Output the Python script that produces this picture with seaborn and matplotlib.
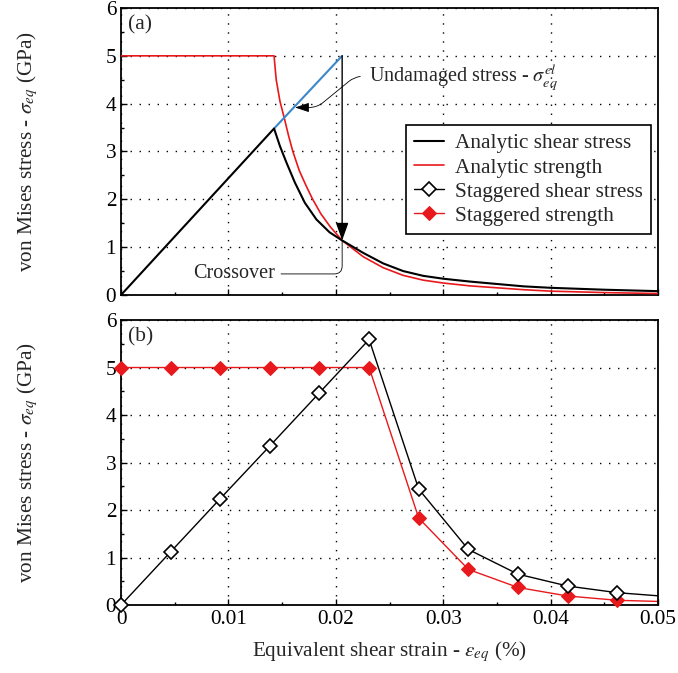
import matplotlib
matplotlib.use("Agg")
import matplotlib.pyplot as plt
import seaborn as sns
from matplotlib.ticker import MultipleLocator, FuncFormatter

# analytic solution
eps_an_shear = [0, 0.01425, 0.0148, 0.01542, 0.01619, 0.01711, 0.01819, 0.01942, 0.02059,
                0.02255, 0.02441, 0.02627, 0.02814, 0.030, 0.0325, 0.035, 0.0375, 0.040, 0.045, 0.050]
sig_an_shear = [0, 3.48, 3.11, 2.76, 2.35, 1.93, 1.58, 1.31, 1.14,
                0.88, 0.66, 0.50, 0.40, 0.34, 0.28, 0.23, 0.18, 0.15, 0.11, 0.08]

eps_an_strength = [0, 0.01425, 0.01445, 0.0148, 0.0152, 0.0156, 0.016, 0.0166, 0.0172, 0.0178,
                   0.0186, 0.0195, 0.02059, 0.02255, 0.02441, 0.02627, 0.02814, 0.030, 0.0325,
                   0.035, 0.0375, 0.040, 0.045, 0.050]
sig_an_strength = [5, 5, 4.5, 4.05, 3.70, 3.33, 3.0, 2.6, 2.3, 2.02,
                   1.7, 1.42, 1.14, 0.80, 0.57, 0.41, 0.31, 0.25, 0.19,
                   0.15, 0.11, 0.08, 0.05, 0.03]

# undamaged (elastic) stress continuation
eps_undamaged = [0.01425, 0.02059]
sig_undamaged = [3.48, 5.0]
eps_cross = 0.02059
sig_cross = 1.14

# staggered solution (panel b)
eps_stag = [0, 0.00462, 0.00924, 0.01386, 0.01848, 0.0231, 0.02772, 0.03234, 0.03696, 0.04158, 0.0462]
sig_stag_shear = [0, 1.12, 2.24, 3.35, 4.47, 5.59, 2.44, 1.17, 0.65, 0.40, 0.26]
sig_stag_strength = [5, 5, 5, 5, 5, 5, 1.83, 0.75, 0.37, 0.19, 0.10]
# next step lies just past the x range, only its line segment is visible
eps_stag_next = 0.05082
sig_stag_shear_next = 0.18
sig_stag_strength_next = 0.07

RED = "#e8191c"
BLUE = "#3a87c9"
FS = 15.3

sns.set_theme(style="ticks")
plt.rcParams["font.family"] = ["Liberation Serif", "DejaVu Serif"]
plt.rcParams["mathtext.fontset"] = "stix"
plt.rcParams["font.size"] = FS
plt.rcParams["axes.linewidth"] = 1.3

fig = plt.figure(figsize=(6.78, 6.73), dpi=100)
ax1 = fig.add_axes([0.1785, 0.5617, 0.792, 0.4264])
ax2 = fig.add_axes([0.1785, 0.101, 0.792, 0.4235])

# ---- panel (a)
sns.lineplot(x=eps_an_shear, y=sig_an_shear, ax=ax1, color="black", lw=1.5,
             estimator=None, sort=False, label="Analytic shear stress", zorder=4)
sns.lineplot(x=eps_an_strength, y=sig_an_strength, ax=ax1, color=RED, lw=1.2,
             estimator=None, sort=False, label="Analytic strength", zorder=3)
sns.lineplot(x=eps_undamaged, y=sig_undamaged, ax=ax1, color=BLUE, lw=1.5,
             estimator=None, sort=False, zorder=3)

ax1.annotate("", xy=(eps_cross, sig_cross), xytext=(eps_cross, sig_undamaged[1]),
             arrowprops=dict(arrowstyle="-|>,head_length=0.7,head_width=0.25",
                             color="black", lw=1.0, shrinkA=0, shrinkB=0), zorder=5)
ax1.annotate(r"Undamaged stress - $\sigma_{eq}^{el}$", xy=(0.0162, 3.92), xytext=(0.0231, 4.54),
             ha="left", va="center", fontsize=14.5,
             arrowprops=dict(arrowstyle="-|>,head_length=0.6,head_width=0.2", color="black",
                             lw=0.6, shrinkA=4, shrinkB=0, relpos=(0, 0.55),
                             connectionstyle="arc,angleA=180,angleB=0,armA=14,armB=22,rad=8"))
ax1.annotate("Crossover", xy=(eps_cross, sig_cross), xytext=(0.01434, 0.44),
             ha="right", va="center", fontsize=14.5,
             arrowprops=dict(arrowstyle="-", color="black", lw=0.6, shrinkB=0, relpos=(1, 0.5),
                             connectionstyle="angle,angleA=0,angleB=90,rad=8"))

# ---- panel (b)
sns.lineplot(x=[eps_stag[-1], eps_stag_next], y=[sig_stag_shear[-1], sig_stag_shear_next],
             ax=ax2, color="black", lw=1.0, estimator=None, sort=False)
sns.lineplot(x=[eps_stag[-1], eps_stag_next], y=[sig_stag_strength[-1], sig_stag_strength_next],
             ax=ax2, color=RED, lw=1.0, estimator=None, sort=False)
sns.lineplot(x=eps_stag, y=sig_stag_strength, ax=ax2, color=RED, lw=1.0, marker="D",
             markersize=7, markerfacecolor=RED, markeredgecolor=RED, estimator=None,
             sort=False, label="Staggered strength", clip_on=False, zorder=3)
sns.lineplot(x=eps_stag, y=sig_stag_shear, ax=ax2, color="black", lw=1.0, marker="D",
             markersize=7, markerfacecolor="white", markeredgecolor="black",
             markeredgewidth=1.2, estimator=None, sort=False,
             label="Staggered shear stress", clip_on=False, zorder=4)

for ax, tag in [(ax1, "(a)"), (ax2, "(b)")]:
    ax.set_xlim(0, 0.05)
    ax.set_ylim(0, 6)
    ax.xaxis.set_major_locator(MultipleLocator(0.01))
    ax.xaxis.set_minor_locator(MultipleLocator(0.005))
    ax.yaxis.set_major_locator(MultipleLocator(1))
    ax.yaxis.set_minor_locator(MultipleLocator(0.5))
    ax.xaxis.set_major_formatter(FuncFormatter(lambda v, p: f"{v:g}"))
    ax.tick_params(which="both", direction="in", top=False, right=False, width=1.0,
                   labelsize=FS, colors="black")
    ax.tick_params(which="major", length=4)
    ax.tick_params(which="minor", length=2.5)
    ax.grid(True, which="major", color="black", lw=1.0, linestyle=(0, (1, 5.5)))
    for s in ax.spines.values():
        s.set_visible(True)
        s.set_color("black")
        s.set_linewidth(1.3)
    ax.set_ylabel(r"von Mises stress - $\sigma_{eq}$ (GPa)", fontsize=FS)
    ax.yaxis.set_label_coords(-0.15, 0.5)
    ax.text(0.013, 0.975, tag, transform=ax.transAxes, ha="left", va="top", fontsize=15.5)
    if ax.get_legend() is not None:
        ax.get_legend().remove()

ax1.tick_params(labelbottom=False)
ax1.set_xlabel("")
ax2.set_xlabel(r"Equivalent shear strain - $\varepsilon_{eq}$ (%)", fontsize=FS, labelpad=7)

h1, l1 = ax1.get_legend_handles_labels()
h2, l2 = ax2.get_legend_handles_labels()
order = {"Analytic shear stress": 0, "Analytic strength": 1,
         "Staggered shear stress": 2, "Staggered strength": 3}
pairs = sorted(zip(h1 + h2, l1 + l2), key=lambda t: order.get(t[1], 9))
pairs = [p for p in pairs if p[1] in order]
leg = ax1.legend([p[0] for p in pairs], [p[1] for p in pairs], loc="upper right",
                 bbox_to_anchor=(0.987, 0.592), borderaxespad=0, fontsize=FS,
                 frameon=True, fancybox=False, framealpha=1, edgecolor="black",
                 handlelength=1.4, labelspacing=0.2, borderpad=0.4, handletextpad=0.5)
leg.get_frame().set_linewidth(1.2)
leg.set_zorder(10)

fig.savefig("out.png", dpi=100)
